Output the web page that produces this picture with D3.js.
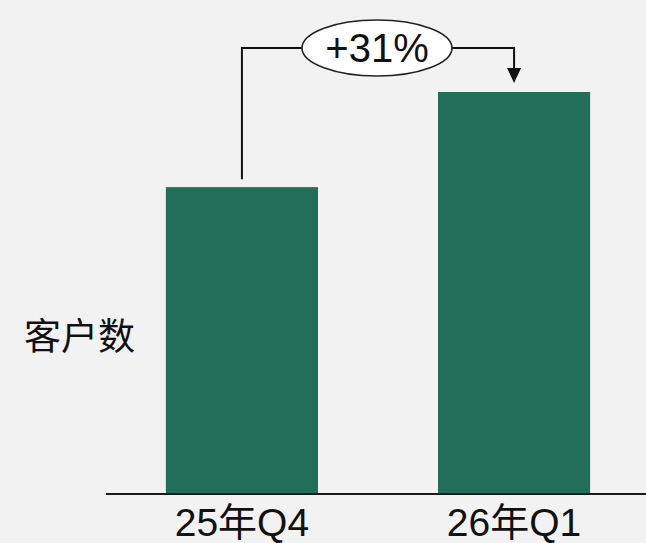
<!DOCTYPE html>
<html><head><meta charset="utf-8">
<script src="https://cdn.jsdelivr.net/npm/d3@7"></script>
<style>html,body{margin:0;padding:0;background:#f2f2f2;overflow:hidden}</style>
</head><body>
<svg id="c" width="646" height="543"></svg>
<script>
const categories = ["25年Q4", "26年Q1"];
const values = [100, 131];
const growthLabel = "+31%";
const yTitle = "客户数";

const W = 646, H = 543;
const svg = d3.select("#c");
svg.append("rect").attr("width", W).attr("height", H).attr("fill", "#f2f2f2");

const baseY = 494;
const x = d3.scaleBand().domain(categories).range([106, 650]).paddingInner(0.441).paddingOuter(0.22);
const y = d3.scaleLinear().domain([0, 131]).range([baseY, 92]);

svg.selectAll("rect.bar").data(values).enter().append("rect")
  .attr("class", "bar")
  .attr("x", (d, i) => x(categories[i]))
  .attr("y", d => y(d))
  .attr("width", x.bandwidth())
  .attr("height", d => baseY - y(d))
  .attr("fill", "#236e5a");

// baseline
svg.append("line").attr("x1", 106).attr("x2", 646).attr("y1", baseY).attr("y2", baseY)
  .attr("stroke", "#1a1a1a").attr("stroke-width", 2);

// category labels
svg.selectAll("text.cat").data(categories).enter().append("text")
  .attr("class", "cat")
  .attr("x", d => x(d) + x.bandwidth() / 2)
  .attr("y", 536)
  .attr("text-anchor", "middle")
  .attr("font-family", "Liberation Sans, Arial, Noto Sans CJK SC, sans-serif")
  .attr("font-size", 39)
  .attr("fill", "#111")
  .text(d => d);

// y title
svg.append("text").attr("x", 24).attr("y", 350)
  .attr("font-family", "Noto Sans CJK SC, sans-serif")
  .attr("font-size", 37).attr("fill", "#111").text(yTitle);

// growth annotation
const cx1 = x(categories[0]) + x.bandwidth() / 2;
const cx2 = x(categories[1]) + x.bandwidth() / 2;
const topY = 48;
const ex = (cx1 + cx2) / 2 - 1, rx = 75, ry = 28;
const tipY = y(values[1]) - 9;
svg.append("path")
  .attr("d", `M${cx1},${y(values[0]) - 8} V${topY} H${ex - rx}`)
  .attr("fill", "none").attr("stroke", "#111").attr("stroke-width", 2);
svg.append("path")
  .attr("d", `M${ex + rx},${topY} H${cx2} V${tipY - 14}`)
  .attr("fill", "none").attr("stroke", "#111").attr("stroke-width", 2);
svg.append("path")
  .attr("d", `M${cx2 - 7},${tipY - 15} L${cx2 + 7},${tipY - 15} L${cx2},${tipY} Z`)
  .attr("fill", "#111");
svg.append("ellipse").attr("cx", ex).attr("cy", topY).attr("rx", rx).attr("ry", ry)
  .attr("fill", "#fff").attr("stroke", "#222").attr("stroke-width", 1.6);
svg.append("text").attr("x", ex).attr("y", topY + 14)
  .attr("text-anchor", "middle")
  .attr("font-family", "Liberation Sans, Arial, sans-serif")
  .attr("font-size", 40).attr("fill", "#111").text(growthLabel);
</script>
</body></html>
